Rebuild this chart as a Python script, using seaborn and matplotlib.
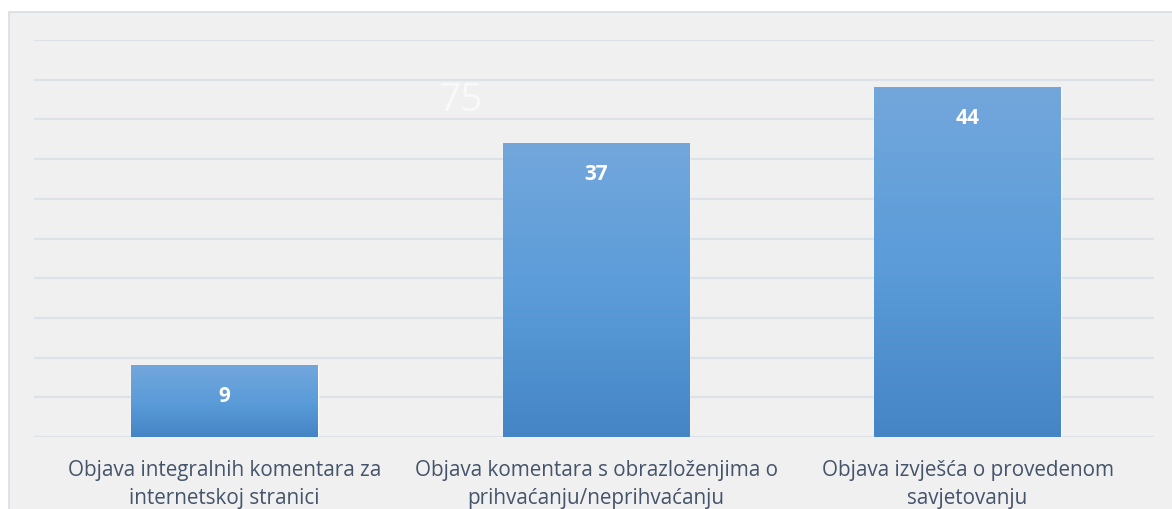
import numpy as np
import pandas as pd
import matplotlib
matplotlib.use("Agg")
import matplotlib.pyplot as plt
import seaborn as sns
from matplotlib.colors import LinearSegmentedColormap
from matplotlib.patches import Rectangle

# podaci
categories = [
    "Objava integralnih komentara za\ninternetskoj stranici",
    "Objava komentara s obrazloženjima o\nprihvaćanju/neprihvaćanju",
    "Objava izvješća o provedenom\nsavjetovanju",
]
values = [9, 37, 44]
stray_label = "75"

df = pd.DataFrame({"kategorija": categories, "broj": values})

sns.set_style("white")
plt.rcParams["font.family"] = ["Open Sans", "DejaVu Sans"]

fig = plt.figure(figsize=(11.72, 5.10), dpi=100)
fig.patch.set_facecolor("white")

# sivi okvir grafikona
fig.patches.append(Rectangle((9 / 1172, -0.01), 1.02, 1 - 13 / 510 + 0.01,
                             transform=fig.transFigure, facecolor="#f0f0f0",
                             edgecolor="#d9dee4", linewidth=1.2, zorder=-10))

ax = fig.add_axes([34 / 1172, 1 - 438 / 510, 1120 / 1172, 397 / 510])
ax.set_zorder(1)
ax.set_facecolor("none")

sns.barplot(data=df, x="kategorija", y="broj", color="#5b9bd5", width=0.503,
            ax=ax, zorder=3)

ax.set_yticks(np.arange(0, 51, 5))
ax.set_yticklabels([])
ax.grid(axis="y", color="#dde2e8", linewidth=1.6, zorder=0)
ax.set_axisbelow(True)
for s in ax.spines.values():
    s.set_visible(False)
ax.tick_params(axis="both", length=0)
ax.tick_params(axis="x", pad=16, labelsize=14.9, labelcolor="#44546a")
for lbl in ax.get_xticklabels():
    lbl.set_linespacing(1.45)
ax.set_xlabel("")
ax.set_ylabel("")

# gradijent na stupcima
cmap = LinearSegmentedColormap.from_list("grad", ["#4585c6", "#5b9cd9", "#73a7dc"])
grad = np.linspace(0, 1, 256).reshape(-1, 1)
for p in ax.patches:
    x0, y0 = p.get_x(), p.get_y()
    w, h = p.get_width(), p.get_height()
    p.set_facecolor("none")
    ax.imshow(grad, cmap=cmap, origin="lower", aspect="auto",
              extent=(x0, x0 + w, y0, y0 + h), zorder=3)
    ax.annotate(f"{int(round(h))}", xy=(x0 + w / 2, h), xytext=(0, -21.5),
                textcoords="offset points", ha="center", va="center",
                color="white", fontsize=15, fontweight="bold", zorder=5)

ax.set_xlim(-0.513, 2.502)
ax.set_ylim(0, 50)

fig.text(460 / 1172, 1 - 101 / 510, stray_label, ha="center", va="center",
         fontsize=28, color="#f9f9f9")

fig.savefig("out.png", dpi=100)
